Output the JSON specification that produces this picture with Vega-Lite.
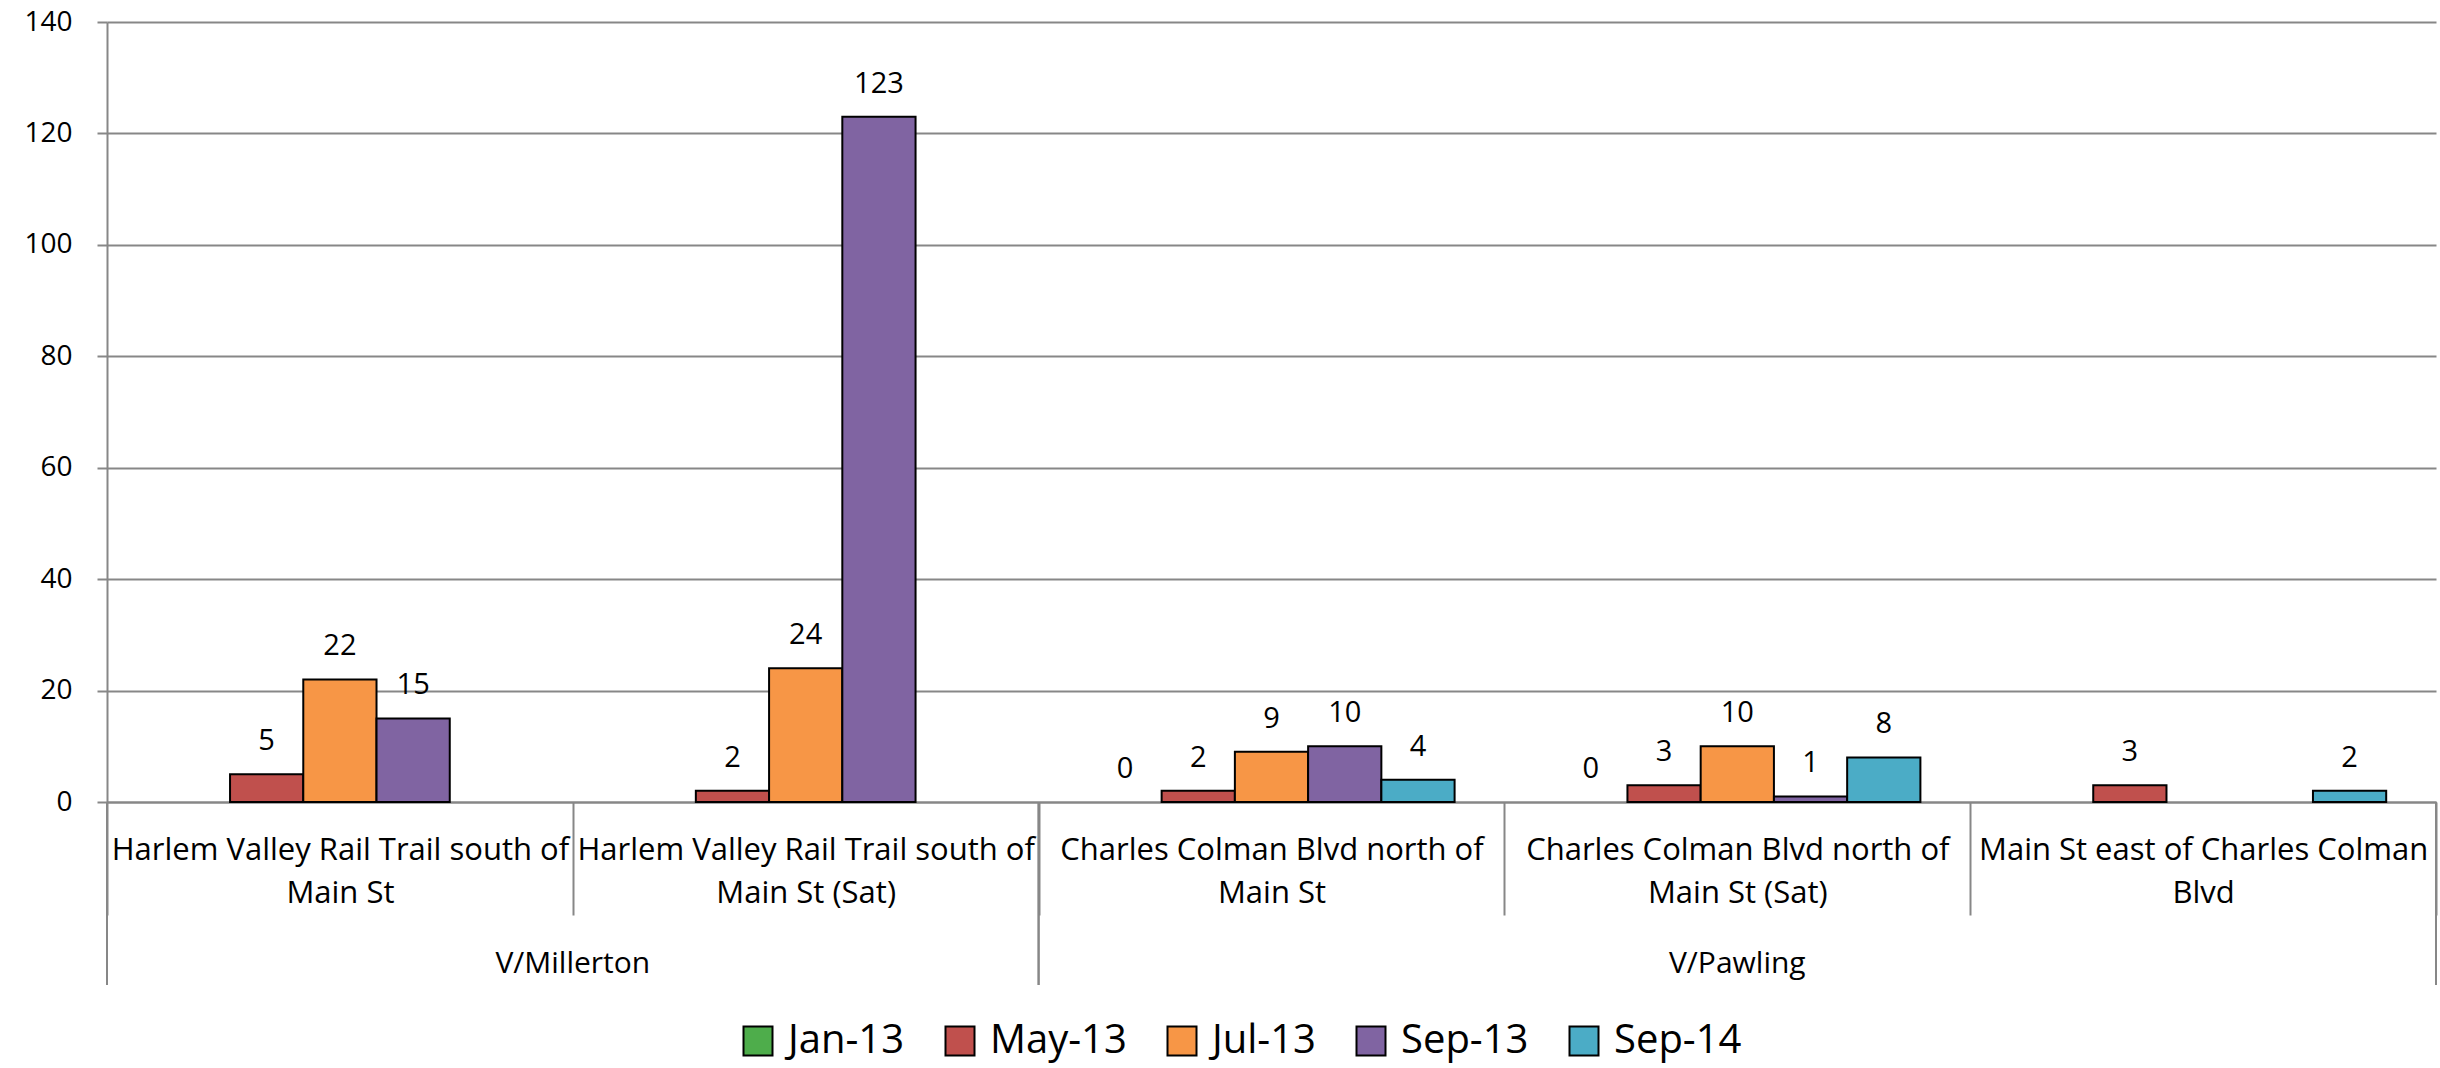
{
  "$schema": "https://vega.github.io/schema/vega-lite/v6.json",
  "width": 2329,
  "height": 780,
  "autosize": {"type": "none"},
  "padding": {"left": 107, "top": 22, "right": 4, "bottom": 266},
  "background": "white",
  "config": {
    "view": {"stroke": null},
    "font": "Open Sans",
    "text": {"font": "Open Sans"}
  },
  "datasets": {
    "counts": [
      {"category": "Harlem Valley Rail Trail south of Main St", "group": "V/Millerton", "series": "May-13", "value": 5},
      {"category": "Harlem Valley Rail Trail south of Main St", "group": "V/Millerton", "series": "Jul-13", "value": 22},
      {"category": "Harlem Valley Rail Trail south of Main St", "group": "V/Millerton", "series": "Sep-13", "value": 15},
      {"category": "Harlem Valley Rail Trail south of Main St (Sat)", "group": "V/Millerton", "series": "May-13", "value": 2},
      {"category": "Harlem Valley Rail Trail south of Main St (Sat)", "group": "V/Millerton", "series": "Jul-13", "value": 24},
      {"category": "Harlem Valley Rail Trail south of Main St (Sat)", "group": "V/Millerton", "series": "Sep-13", "value": 123},
      {"category": "Charles Colman Blvd north of Main St", "group": "V/Pawling", "series": "Jan-13", "value": 0},
      {"category": "Charles Colman Blvd north of Main St", "group": "V/Pawling", "series": "May-13", "value": 2},
      {"category": "Charles Colman Blvd north of Main St", "group": "V/Pawling", "series": "Jul-13", "value": 9},
      {"category": "Charles Colman Blvd north of Main St", "group": "V/Pawling", "series": "Sep-13", "value": 10},
      {"category": "Charles Colman Blvd north of Main St", "group": "V/Pawling", "series": "Sep-14", "value": 4},
      {"category": "Charles Colman Blvd north of Main St (Sat)", "group": "V/Pawling", "series": "Jan-13", "value": 0},
      {"category": "Charles Colman Blvd north of Main St (Sat)", "group": "V/Pawling", "series": "May-13", "value": 3},
      {"category": "Charles Colman Blvd north of Main St (Sat)", "group": "V/Pawling", "series": "Jul-13", "value": 10},
      {"category": "Charles Colman Blvd north of Main St (Sat)", "group": "V/Pawling", "series": "Sep-13", "value": 1},
      {"category": "Charles Colman Blvd north of Main St (Sat)", "group": "V/Pawling", "series": "Sep-14", "value": 8},
      {"category": "Main St east of Charles Colman Blvd", "group": "V/Pawling", "series": "May-13", "value": 3},
      {"category": "Main St east of Charles Colman Blvd", "group": "V/Pawling", "series": "Sep-14", "value": 2}
    ],
    "groups": [
      {"group": "V/Millerton", "first": "Harlem Valley Rail Trail south of Main St", "anchor": "Harlem Valley Rail Trail south of Main St (Sat)", "last": "Harlem Valley Rail Trail south of Main St (Sat)"},
      {"group": "V/Pawling", "first": "Charles Colman Blvd north of Main St", "anchor": "Charles Colman Blvd north of Main St (Sat)", "last": "Main St east of Charles Colman Blvd"}
    ]
  },
  "layer": [
    {
      "data": {"name": "counts"},
      "mark": {"type": "bar", "stroke": "black"},
      "encoding": {
        "x": {
          "field": "category",
          "type": "nominal",
          "sort": null,
          "title": null,
          "scale": {
            "domain": [
              "Harlem Valley Rail Trail south of Main St",
              "Harlem Valley Rail Trail south of Main St (Sat)",
              "Charles Colman Blvd north of Main St",
              "Charles Colman Blvd north of Main St (Sat)",
              "Main St east of Charles Colman Blvd"
            ],
            "paddingInner": 0,
            "paddingOuter": 0
          },
          "axis": {
            "orient": "bottom",
            "domain": true,
            "domainColor": "#878787",
            "domainWidth": 2,
            "ticks": true,
            "tickBand": "extent",
            "tickColor": "#878787",
            "tickWidth": 2,
            "tickSize": 113,
            "labelAngle": 0,
            "labelFont": "Open Sans",
            "labelFontSize": 31,
            "labelColor": "black",
            "labelBaseline": "top",
            "labelLineHeight": 43,
            "labelPadding": -80,
            "labelLimit": 0,
            "labelExpr": "datum.label === 'Main St east of Charles Colman Blvd' ? ['Main St east of Charles Colman', 'Blvd'] : split(replace(datum.label, ' of Main', ' of|Main'), '|')",
            "grid": false
          }
        },
        "xOffset": {
          "field": "series",
          "type": "nominal",
          "scale": {"domain": ["Jan-13", "May-13", "Jul-13", "Sep-13", "Sep-14"], "paddingInner": 0, "paddingOuter": 0.68}
        },
        "y": {
          "field": "value",
          "type": "quantitative",
          "title": null,
          "scale": {"domain": [0, 140], "nice": false},
          "axis": {
            "values": [0, 20, 40, 60, 80, 100, 120, 140],
            "grid": true,
            "gridColor": "#878787",
            "gridWidth": 2,
            "domain": true,
            "domainColor": "#878787",
            "domainWidth": 2,
            "tickColor": "#878787",
            "tickWidth": 2,
            "tickSize": 10,
            "labelFont": "Open Sans",
            "labelFontSize": 28,
            "labelColor": "black",
            "labelPadding": 25
          }
        },
        "color": {
          "field": "series",
          "type": "nominal",
          "scale": {
            "domain": ["Jan-13", "May-13", "Jul-13", "Sep-13", "Sep-14"],
            "range": ["#4EAD4B", "#C0504D", "#F79646", "#8064A2", "#4BACC6"]
          },
          "legend": {
            "orient": "none",
            "legendX": 631,
            "legendY": 999,
            "direction": "horizontal",
            "title": null,
            "padding": 0,
            "symbolType": "square",
            "symbolSize": 841,
            "symbolStrokeColor": "black",
            "symbolStrokeWidth": 2,
            "symbolOpacity": 1,
            "labelFont": "Open Sans",
            "labelFontSize": 40,
            "labelColor": "black",
            "labelOffset": 10,
            "columnPadding": 35
          }
        },
        "strokeWidth": {"condition": {"test": "datum.value === 0", "value": 0}, "value": 2}
      }
    },
    {
      "data": {"name": "counts"},
      "mark": {"type": "text", "baseline": "alphabetic", "dy": -24, "fontSize": 29, "font": "Open Sans", "color": "black"},
      "encoding": {
        "x": {"field": "category", "type": "nominal", "sort": null},
        "xOffset": {"field": "series", "type": "nominal"},
        "y": {"field": "value", "type": "quantitative"},
        "text": {"field": "value", "type": "quantitative"}
      }
    },
    {
      "data": {"name": "groups"},
      "mark": {"type": "rule", "color": "#878787", "strokeWidth": 2, "y2Offset": 183},
      "encoding": {
        "x": {"field": "first", "type": "nominal", "sort": null, "bandPosition": 0},
        "y": {"datum": 0, "type": "quantitative"},
        "y2": {"datum": 0}
      }
    },
    {
      "data": {"name": "groups"},
      "mark": {"type": "rule", "color": "#878787", "strokeWidth": 2, "y2Offset": 183},
      "encoding": {
        "x": {"field": "last", "type": "nominal", "sort": null, "bandPosition": 1},
        "y": {"datum": 0, "type": "quantitative"},
        "y2": {"datum": 0}
      }
    },
    {
      "data": {"name": "groups"},
      "transform": [{"filter": "datum.group === 'V/Millerton'"}],
      "mark": {"type": "text", "baseline": "alphabetic", "dy": 171, "fontSize": 30, "font": "Open Sans", "color": "black"},
      "encoding": {
        "x": {"field": "anchor", "type": "nominal", "sort": null, "bandPosition": 0},
        "y": {"datum": 0, "type": "quantitative"},
        "text": {"field": "group"}
      }
    },
    {
      "data": {"name": "groups"},
      "transform": [{"filter": "datum.group === 'V/Pawling'"}],
      "mark": {"type": "text", "baseline": "alphabetic", "dy": 171, "fontSize": 30, "font": "Open Sans", "color": "black"},
      "encoding": {
        "x": {"field": "anchor", "type": "nominal", "sort": null, "bandPosition": 0.5},
        "y": {"datum": 0, "type": "quantitative"},
        "text": {"field": "group"}
      }
    }
  ]
}
